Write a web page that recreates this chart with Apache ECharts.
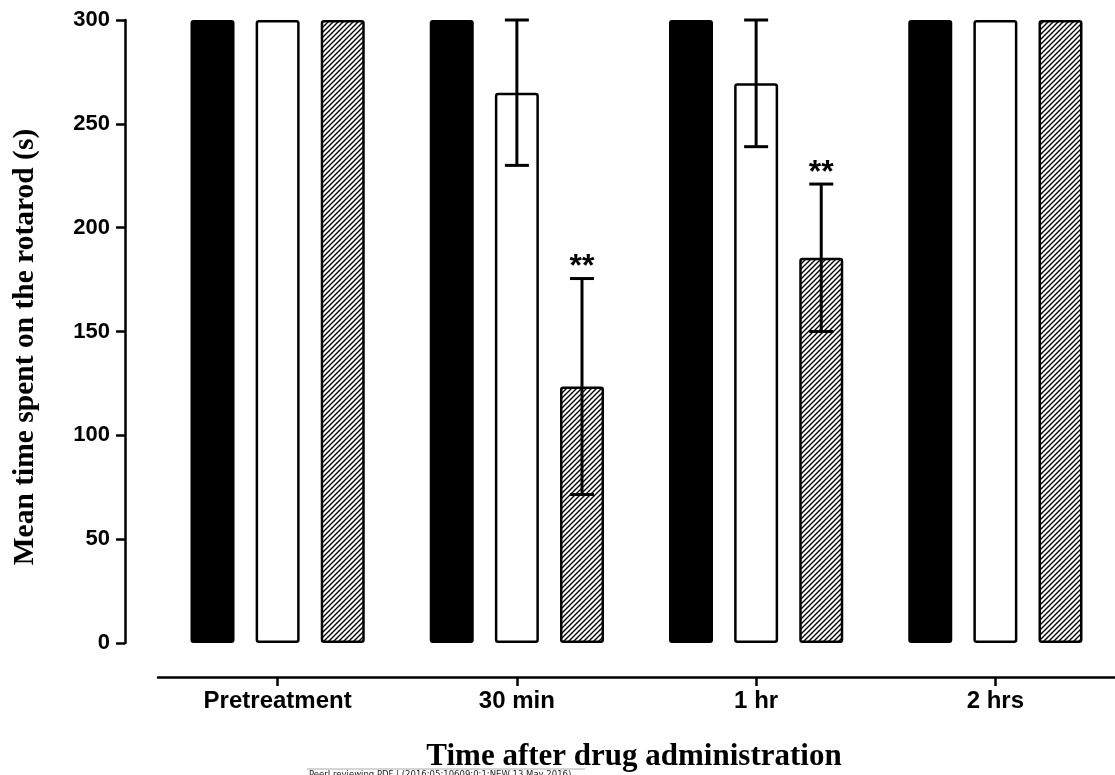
<!DOCTYPE html>
<html>
<head>
<meta charset="utf-8">
<script src="https://cdn.jsdelivr.net/npm/echarts@6/dist/echarts.min.js"></script>
<style>
  html, body { margin: 0; padding: 0; background: #fff; }
  #myChart { width: 1115px; height: 775px; }
</style>
</head>
<body>
<div id="myChart"></div>
<script>
// Data
const categories = ['Pretreatment', '30 min', '1 hr', '2 hrs']
const yTicks = [0, 50, 100, 150, 200, 250, 300]
const controlMean = [300, 300, 300, 300]
const lowDoseMean = [300, 265, 269.5, 300]
const lowDoseErr = [0, 35, 30.5, 0]
const highDoseMean = [300, 123.5, 185.5, 300]
const highDoseErr = [0, 52, 35.5, 0]
const highDoseSig = ['', '**', '**', '']

const BAR_W = 44
const BAR_GAP = 0.48
const STEP = BAR_W * (1 + BAR_GAP)

// hatch pattern "/"
function hatchPattern() {
  const s = 5
  const c = document.createElement('canvas')
  c.width = s
  c.height = s
  const g = c.getContext('2d')
  g.fillStyle = '#fff'
  g.fillRect(0, 0, s, s)
  g.strokeStyle = '#000'
  g.lineWidth = 1.4
  g.beginPath()
  g.moveTo(-1, s + 1); g.lineTo(s + 1, -1)
  g.moveTo(-1, 1); g.lineTo(1, -1)
  g.moveTo(s - 1, s + 1); g.lineTo(s + 1, s - 1)
  g.stroke()
  return c
}

function errRows(means, errs, sig) {
  const rows = []
  means.forEach((m, i) => {
    if (errs[i] > 0) rows.push({ value: [i, m - errs[i], m + errs[i]], sig: sig ? sig[i] : '' })
  })
  return rows
}

function errSeries(rows, offset) {
  return {
    type: 'custom',
    z: 5,
    data: rows.map(r => r.value),
    renderItem: (params, api) => {
      const i = api.value(0)
      const lo = api.coord([i, api.value(1)])
      const hi = api.coord([i, api.value(2)])
      const x = hi[0] + offset
      const half = 12
      const st = { stroke: '#000', lineWidth: 3 }
      const kids = [
        { type: 'line', shape: { x1: x, y1: hi[1], x2: x, y2: lo[1] }, style: st },
        { type: 'line', shape: { x1: x - half, y1: hi[1], x2: x + half, y2: hi[1] }, style: st },
        { type: 'line', shape: { x1: x - half, y1: lo[1], x2: x + half, y2: lo[1] }, style: st },
      ]
      const sig = rows[params.dataIndex].sig
      if (sig) {
        kids.push({
          type: 'text',
          x: x,
          y: hi[1] - 11,
          style: {
            text: sig,
            font: 'bold 32px "Liberation Sans", Arial, sans-serif',
            fill: '#000',
            align: 'center',
            verticalAlign: 'middle',
          },
        })
      }
      return { type: 'group', children: kids }
    },
  }
}

const chart = echarts.init(document.getElementById('myChart'))
const labelFont = '"Liberation Sans", Arial, sans-serif'

chart.setOption({
  animation: false,
  backgroundColor: '#fff',
  grid: { left: 158, right: 0, top: 20, bottom: 132 },
  xAxis: {
    type: 'category',
    data: categories,
    offset: 34,
    axisLine: { onZero: false, lineStyle: { color: '#000', width: 2.5 } },
    axisTick: { show: true, alignWithLabel: true, length: 9, lineStyle: { color: '#000', width: 2.5 } },
    axisLabel: { color: '#000', fontFamily: labelFont, fontWeight: 'bold', fontSize: 24, margin: 12 },
  },
  yAxis: {
    type: 'value',
    min: yTicks[0],
    max: yTicks[yTicks.length - 1],
    interval: yTicks[1] - yTicks[0],
    offset: 33,
    splitLine: { show: false },
    axisLine: { show: true, lineStyle: { color: '#000', width: 2.5 } },
    axisTick: { show: true, length: 9, lineStyle: { color: '#000', width: 2.5 } },
    axisLabel: { color: '#000', fontFamily: labelFont, fontWeight: 'bold', fontSize: 22, margin: 15 },
  },
  series: [
    {
      name: 'Control',
      type: 'bar',
      barWidth: BAR_W,
      barGap: (BAR_GAP * 100) + '%',
      data: controlMean,
      itemStyle: { color: '#000', borderColor: '#000', borderWidth: 2, borderRadius: 2 },
    },
    {
      name: 'Low dose',
      type: 'bar',
      barWidth: BAR_W,
      data: lowDoseMean,
      itemStyle: { color: '#fff', borderColor: '#000', borderWidth: 2.5, borderRadius: 2 },
    },
    {
      name: 'High dose',
      type: 'bar',
      barWidth: BAR_W,
      data: highDoseMean,
      itemStyle: {
        color: { image: hatchPattern(), repeat: 'repeat' },
        borderColor: '#000',
        borderWidth: 2.5,
        borderRadius: 2,
      },
    },
    errSeries(errRows(lowDoseMean, lowDoseErr), 0),
    errSeries(errRows(highDoseMean, highDoseErr, highDoseSig), STEP),
  ],
  graphic: [
    {
      type: 'text',
      x: 25,
      y: 347,
      rotation: Math.PI / 2,
      style: {
        text: 'Mean time spent on the rotarod (s)',
        font: 'bold 29.5px "Liberation Serif", "Times New Roman", serif',
        fill: '#000',
        align: 'center',
        verticalAlign: 'middle',
      },
    },
    {
      type: 'text',
      x: 634,
      y: 757,
      style: {
        text: 'Time after drug administration',
        font: 'bold 31px "Liberation Serif", "Times New Roman", serif',
        fill: '#000',
        align: 'center',
        verticalAlign: 'middle',
      },
    },
    {
      type: 'line',
      shape: { x1: 307, y1: 769, x2: 585, y2: 769 },
      style: { stroke: '#aaa', lineWidth: 1 },
    },
    {
      type: 'text',
      x: 309,
      y: 770,
      style: {
        text: 'PeerJ reviewing PDF | (2016:05:10609:0:1:NEW 13 May 2016)',
        font: '8.5px "DejaVu Sans", sans-serif',
        fill: '#222',
        align: 'left',
        verticalAlign: 'top',
      },
    },
  ],
})
</script>
</body>
</html>
